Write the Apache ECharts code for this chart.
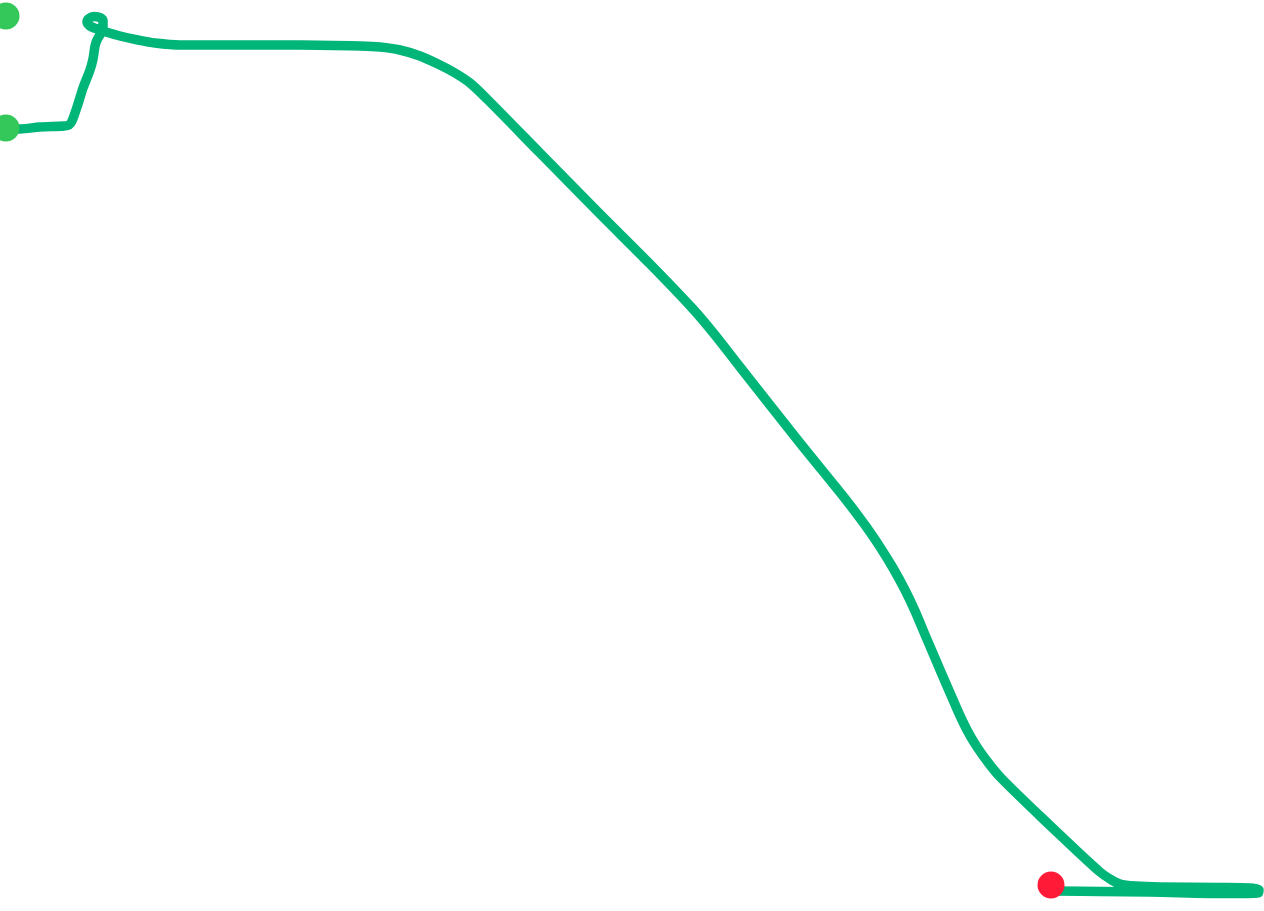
<!DOCTYPE html>
<html>
<head>
<meta charset="utf-8">
<script src="https://cdn.jsdelivr.net/npm/echarts@6/dist/echarts.min.js"></script>
<style>html,body{margin:0;padding:0;background:#fff}#c{width:1264px;height:911px}</style>
</head>
<body>
<div id="c"></div>
<script>
// Track coordinates (x, y in plot units)
const trackX = [6,20,40,64,69,72,78,83,90,93,95,97,101,103,103,100,94,89,87,90,97,106,120,138,155,180,240,300,360,380,400,420,440,455,470,487,540,600,650,693,715,740,800,843,865,880,893,905,915,926,957,967,977,990,1002,1040,1077,1100,1110,1120,1135,1160,1220,1250,1259,1258,1230,1150,1100,1055];
const trackY = [128,129,127,126,125,121,104,88,70,59,46,40,33,27,21,17.5,16.5,18.5,22,26,29,32,36,40,43,45,45,45,46,47,50,56,65,73,83,99,153,214,264,309,335,367,443,496,525,547,568,590,611,637,709,730,747,765,779,816,851,872,879,884,886,887,887.5,888,890,893,893.5,892,891.5,891];
const startX = [6, 6];
const startY = [16, 128];
const endX = [1051];
const endY = [885];

const chart = echarts.init(document.getElementById('c'), null, {renderer: 'canvas'});
chart.setOption({
  animation: false,
  backgroundColor: '#ffffff',
  grid: {left: 0, right: 0, top: 0, bottom: 0},
  xAxis: {type: 'value', min: 0, max: 1264, show: false},
  yAxis: {type: 'value', min: 0, max: 911, inverse: true, show: false},
  series: [
    {
      type: 'line',
      data: trackX.map((x, i) => [x, trackY[i]]),
      showSymbol: false,
      smooth: 0.3,
      lineStyle: {color: '#00b578', width: 9.5, cap: 'round', join: 'round'},
      z: 2
    },
    {
      type: 'scatter',
      data: startX.map((x, i) => [x, startY[i]]),
      symbolSize: 27,
      itemStyle: {color: '#34c759', opacity: 1},
      z: 3
    },
    {
      type: 'scatter',
      data: endX.map((x, i) => [x, endY[i]]),
      symbolSize: 27,
      itemStyle: {color: '#ff1a37', opacity: 1},
      z: 3
    }
  ]
});
</script>
</body>
</html>
